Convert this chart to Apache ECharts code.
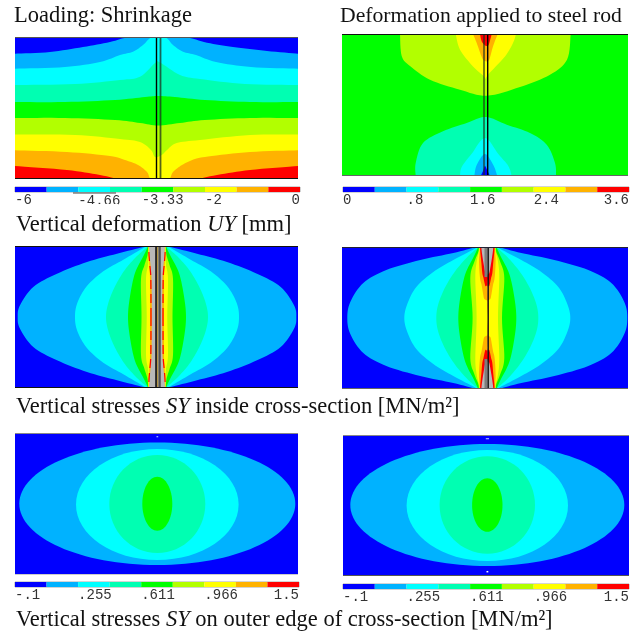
<!DOCTYPE html>
<html>
<head>
<meta charset="utf-8">
<style>html,body{margin:0;padding:0;background:#fff}#c{width:641px;height:634px}</style>
<script src="https://cdn.jsdelivr.net/npm/echarts@6/dist/echarts.min.js"></script>
</head>
<body>
<div id="c"></div>
<script>
// ---- palette (nine contour bands, low to high) ----
const bandColors = ['#0000ff','#00b2ff','#00ffff','#00ffb2','#00ff00','#b2ff00','#ffff00','#ffb200','#ff0000'];

// ---- colour-bar tick labels ----
const ticksUY   = {0:'-6',2:'{low|-4.66}',4:'-3.33',6:'-2',9:'0'};
const ticksRod  = {0:'0',2:'.8',4:'1.6',6:'2.4',9:'3.6'};
const ticksSY   = {0:'-.1',2:'.255',4:'.611',6:'.966',9:'1.5'};

// ---- Panel 1: UY contour boundaries (x along section, y depth), each fills down to the bottom edge ----
const uyB1 = [[0,16.7],[35,15],[68,10],[95,5],[117,0],[167,0],[192,5.7],[218,10],[252,14],[283,16.7]];
const uyB2 = [[0,31.7],[50,30],[85,25],[105,18],[118,14.7],[128,8],[137,0],[150,0],[158,8],[168,14.7],[181,18],[201,25],[236,30],[283,31.7]];
const uyB3 = [[0,48],[60,47],[105,43],[125,39.7],[140,26],[145,25.5],[165,38],[185,42],[230,47],[283,48]];
const uyB4 = [[0,65],[50,65],[100,63],[130,60],[143,59],[160,60],[190,63],[235,65],[283,65]];
const uyB5 = [[0,81],[50,81],[100,83],[125,86],[143,88.5],[165,86],[190,83],[235,81],[283,81]];
const uyB6 = [[0,97.5],[60,98],[105,102],[125,105],[136,113],[140,120],[146.7,118],[152,113],[161.7,106],[185,103],[235,98],[283,97.5]];
const uyB7 = [[0,113.3],[52,115],[95,119],[110,123],[123,128],[132,135],[137,143],[153,143],[158,135],[167,128],[180,122],[193,119.5],[235,115],[283,113.3]];
const uyB8 = [[0,129],[52,133],[85,138],[113,143],[172,143],[202,138],[235,133],[283,129]];
const uyRods = [141.5,145.5];

// ---- Panel 2: rod deformation lobes ----
const rodTop1 = [[58,0],[59.7,22],[68,32],[88,45.7],[118,55.7],[144.7,61.7],[178,53],[208,40.7],[225,25.7],[228.7,0]];
const rodTop2 = [[113.7,0],[118,15.7],[131,32.4],[142,42.4],[144,45],[146,40.7],[163,22.4],[171,9],[174,0]];
const rodTop3 = [[131,0],[134.7,9],[140,23.7],[143,27],[147,26],[151,12.4],[155.7,0]];
const rodTop4 = [[138,0],[139.7,7.4],[143,11.4],[146.3,11.4],[148.7,4],[149.7,0]];
const rodBot1 = [[73.7,142],[73.7,129],[81,109],[101,97.3],[124.7,89],[143.7,83],[164.7,90.7],[188,99],[204.7,110.7],[213,129],[214,142]];
const rodBot2 = [[118,142],[119.7,133],[129.7,119.7],[143,104],[156.3,120],[166.3,132],[169.7,142]];
const rodBot3 = [[132.3,142],[134.7,131],[143,120],[151.3,131],[155.3,142]];
const rodBot4 = [[138.7,142],[141,137],[143,132],[145.5,137],[148,142]];
const rodRods = [142,145.7];

// ---- Panel 3: SY inside cross-section, half-width profiles [offset from mid-height, half width] ----
const syA1 = [[0,139.3],[11.7,137],[30,123.7],[43.3,100],[55,70],[63.3,40],[70,13.7],[71,11]];
const syA2 = [[0,82],[14,79.7],[30.7,70.3],[45.7,53.7],[57.3,33.7],[69,13.7],[71,10]];
const syA3 = [[0,51],[14,48.7],[30.7,42],[47.3,32],[60.7,20.3],[70,9.8],[71,9.5]];
const syA4 = [[0,29],[20.7,27],[44,22],[60.7,13.7],[70,9.2],[71,9]];
const syA5 = [[0,15.5],[38,16],[52,12.5],[62,9.5],[71,8.8]];
const syA6 = [[0,10.3],[38,11],[52,9],[62,8.8],[71,8.6]];
const syA7 = [[0,7],[38,7],[55,7.8],[71,8.4]];
const syAGrey = [[0,5.2],[38,5.5],[52,6.5],[62,7.5],[71,8]];
const syARed  = [[0,6],[38,6.2],[52,7.2],[62,8],[71,8.3]];

// ---- Panel 4: same quantity for the rod-loaded case ----
const syB1 = [[0,140],[16,137],[35,124],[48,101],[58,67],[65,34],[71,11]];
const syB2 = [[0,83],[14,80],[31,71],[46,54],[58,34],[69,13],[71,10]];
const syB3 = [[0,51],[14,49],[31,42],[47,32],[61,20],[70,10],[71,9.5]];
const syB4 = [[0,29],[21,27],[44,22],[61,13.7],[70,9.5],[71,9]];
const syB5 = [[0,14.7],[40,17],[56,13],[66,9],[71,8.5]];
const syB6 = [[0,10.7],[40,12],[56,10.7],[66,8.5],[71,8]];
const syB7 = [[0,0],[16,0],[19,3],[23,4],[33,5.7],[40,7.3],[56,8.3],[66,7.8],[71,7.5]];
const syB8 = [[0,0],[30,0],[32,2],[40,3.8],[45,5],[56,6],[66,7],[71,7.2]];
const syBGrey = [[0,0],[40,0],[45,2],[56,4],[66,5.5],[71,6]];

// ---- Panels 5 and 6: outer edge, elliptical contours [cx, cy, rx, ry] ----
const edgeA = [[142.3,70.7,138,61.3],[142.3,71.5,81.3,55.5],[142.3,71,48,49],[142.3,70.8,15,27]];
const edgeB = [[144.3,70,137,61],[144.3,70.5,80.7,55.5],[144.3,70,47.7,48.7],[144.3,70,15.2,26.8]];

// ---- drawing helpers: rounded path through the read points, like a smoothed line ----
function rounded(pts){
  const out=[];
  for(let i=0;i<pts.length-1;i++){
    const p0=pts[Math.max(i-1,0)],p1=pts[i],p2=pts[i+1],p3=pts[Math.min(i+2,pts.length-1)];
    for(let s=0;s<8;s++){
      const t=s/8,t2=t*t,t3=t2*t;
      out.push([0,1].map(k=>0.5*((2*p1[k])+(p2[k]-p0[k])*t+(2*p0[k]-5*p1[k]+4*p2[k]-p3[k])*t2+(3*p1[k]-p0[k]-3*p2[k]+p3[k])*t3)));
    }
  }
  out.push(pts[pts.length-1]);
  return out;
}
const fillDown = (pts,h) => { const r=rounded(pts); return [[pts[0][0],h],...r,[pts[pts.length-1][0],h]]; };
const lens = (prof,cx,cy) => {
  const r = prof.slice().reverse();
  const side = rounded([...r.map(p=>[p[1],-p[0]]),...prof.slice(1).map(p=>[p[1],p[0]])]);
  return [...side.map(p=>[cx+p[0],cy+p[1]]),...side.slice().reverse().map(p=>[cx-p[0],cy+p[1]])];
};
const poly = (pts,c) => ({k:'poly',pts,c});
const ell  = (e,c)   => ({k:'ell',e,c});
const line = (pts,c,w,dash) => ({k:'line',pts,c,w,dash});
const C = bandColors;

function edges(w,h,top,bot){ return [line([[0,0.5],[w,0.5]],top,1.2), line([[0,h-0.5],[w,h-0.5]],bot,1.2)]; }

const panels = [
 { rect:[15,37,283,142], layers:[
    poly([[0,0],[283,0],[283,142],[0,142]],C[0]),
    ...[uyB1,uyB2,uyB3,uyB4,uyB5,uyB6,uyB7,uyB8].map((b,i)=>poly(fillDown(b,143),C[i+1])),
    line([[uyRods[0],0],[uyRods[0],142]],'#000',1.4),
    line([[uyRods[1],0],[uyRods[1],142]],'rgba(30,50,30,0.75)',1.8),
    ...edges(283,142,'#555','#111')
 ]},
 { rect:[342,34,286,142], layers:[
    poly([[0,0],[286,0],[286,142],[0,142]],C[4]),
    ...[rodTop1,rodTop2,rodTop3,rodTop4].map((b,i)=>poly(rounded(b),C[5+i])),
    ...[rodBot1,rodBot2,rodBot3,rodBot4].map((b,i)=>poly(rounded(b),C[3-i])),
    line([[rodRods[0],0],[rodRods[0],142]],'rgba(30,50,30,0.75)',1.6),
    line([[rodRods[1],0],[rodRods[1],142]],'#000',1.4),
    ...edges(286,142,'#111','#666')
 ]},
 { rect:[15,246,283,142], layers:[
    poly([[0,0],[283,0],[283,142],[0,142]],C[0]),
    ...[syA1,syA2,syA3,syA4,syA5,syA6,syA7].map((p,i)=>poly(lens(p,142,71),C[i+1])),
    poly(lens(syAGrey,142,71),'#b8b8b8'),
    line(rounded(syARed).map(p=>[142-p[1],71-p[0]]),C[8],1.2,[9,5]),
    line(rounded(syARed).map(p=>[142-p[1],71+p[0]]),C[8],1.2,[9,5]),
    line(rounded(syARed).map(p=>[142+p[1],71-p[0]]),C[8],1.2,[9,5]),
    line(rounded(syARed).map(p=>[142+p[1],71+p[0]]),C[8],1.2,[9,5]),
    poly([[141,0],[145,0],[145,142],[141,142]],'#7d7d7d'),
    line([[142.6,0],[142.6,142]],'#c8a030',0.8),
    line([[141,0],[141,142]],'#000',1.4),
    line([[145,0],[145,142]],'#333',1.2),
    ...edges(283,142,'#111','#111')
 ]},
 { rect:[342,247,286,142], layers:[
    poly([[0,0],[286,0],[286,142],[0,142]],C[0]),
    ...[syB1,syB2,syB3,syB4,syB5,syB6,syB7,syB8].map((p,i)=>poly(lens(p,145.3,71),C[i+1])),
    poly(lens(syBGrey,145.3,71),'#b8b8b8'),
    line([[144,0],[144,30]],'#7d7d7d',3),
    line([[144,112],[144,142]],'#7d7d7d',3),
    line([[146.2,0],[146.2,142]],'#111',1.4),
    ...edges(286,142,'#223','#666')
 ]},
 { rect:[15,433,283,142], layers:[
    poly([[0,0],[283,0],[283,142],[0,142]],C[0]),
    ...edgeA.map((e,i)=>ell(e,C[i+1])),
    line([[141.5,3.7],[143.2,3.7]],'#9fc4ff',1.2),
    ...edges(283,142,'#888','#ccc')
 ]},
 { rect:[343,435,286,141], layers:[
    poly([[0,0],[286,0],[286,141],[0,141]],C[0]),
    ...edgeB.map((e,i)=>ell(e,C[i+1])),
    line([[142.8,3.7],[146,3.7]],'#9fb4ff',1.2),
    line([[143.5,136.7],[145.3,136.7]],'#ffffff',1.5),
    ...edges(286,141,'#888','#555')
 ]}
];

const bars = [
 { rect:[15,187,285,5], ticks:ticksUY },
 { rect:[343,187,286,5], ticks:ticksRod },
 { rect:[15,582,284,5], ticks:ticksSY },
 { rect:[343,584,286,5], ticks:ticksSY }
];

const grid=[],xAxis=[],yAxis=[],series=[];
panels.forEach(p=>{
  const i=grid.length, [l,t,w,h]=p.rect;
  grid.push({left:l,top:t,width:w,height:h,show:false});
  xAxis.push({type:'value',gridIndex:i,min:0,max:w,show:false});
  yAxis.push({type:'value',gridIndex:i,min:0,max:h,inverse:true,show:false});
  series.push({
    type:'custom',xAxisIndex:i,yAxisIndex:i,silent:true,clip:true,animation:false,
    data:p.layers.map((_,n)=>[n,0]),
    renderItem:(params,api)=>{
      const L=p.layers[params.dataIndex];
      if(L.k==='poly') return {type:'polygon',shape:{points:L.pts.map(q=>api.coord(q))},style:{fill:L.c}};
      if(L.k==='line') return {type:'polyline',shape:{points:L.pts.map(q=>api.coord(q))},style:{fill:null,stroke:L.c,lineWidth:L.w,lineDash:L.dash||null}};
      const c=api.coord([L.e[0],L.e[1]]), e=api.coord([L.e[0]+L.e[2],L.e[1]+L.e[3]]);
      return {type:'ellipse',shape:{cx:c[0],cy:c[1],rx:e[0]-c[0],ry:e[1]-c[1]},style:{fill:L.c}};
    }
  });
});
bars.forEach(b=>{
  const i=grid.length,[l,t,w,h]=b.rect;
  grid.push({left:l,top:t,width:w,height:h,show:true,borderColor:'#a8a8a8',borderWidth:1,backgroundColor:'#fff'});
  xAxis.push({type:'value',gridIndex:i,min:0,max:9,interval:1,
    axisLine:{show:false},splitLine:{show:false},
    axisTick:{show:false},
    axisLabel:{show:true,margin:1,align:'left',alignMinLabel:'left',alignMaxLabel:'right',
      showMinLabel:true,showMaxLabel:true,hideOverlap:false,
      fontFamily:'Liberation Mono',fontSize:14,color:'#333',
      rich:{low:{fontFamily:'Liberation Mono',fontSize:14,color:'#333',padding:[1,0,0,0]}},
      formatter:v=>b.ticks[v]||''}});
  yAxis.push({type:'value',gridIndex:i,min:0,max:1,show:false});
  series.push({
    type:'custom',xAxisIndex:i,yAxisIndex:i,silent:true,animation:false,
    data:bandColors.map((_,n)=>[n,0]),
    renderItem:(params,api)=>{
      const a=api.coord([params.dataIndex,1]), z=api.coord([params.dataIndex+1,0]);
      return {type:'rect',shape:{x:a[0],y:a[1],width:z[0]-a[0],height:z[1]-a[1]},style:{fill:bandColors[params.dataIndex]}};
    }
  });
});

const serif='Liberation Serif', cap={fontFamily:serif,fontSize:22.5,fontWeight:'normal',color:'#111'};
const mk=(size)=>{const c={...cap,fontSize:size};return {n:{...c},i:{...c,fontStyle:'italic'}};};
const T=(text,left,top,size)=>({text,left,top,padding:0,textStyle:{...cap,fontSize:size,rich:mk(size)}});
const title=[
  T('{n|Loading: Shrinkage}',14,5,22.5),
  T('{n|Deformation applied to steel rod}',340,5,21.7),
  T('{n|Vertical deformation }{i|UY}{n| [mm]}',16,214,22.5),
  T('{n|Vertical stresses }{i|SY}{n| inside cross-section [MN/m²]}',16,396,22.5),
  T('{n|Vertical stresses }{i|SY}{n| on outer edge of cross-section [MN/m²]}',16,609,22.5)
];

const chart=echarts.init(document.getElementById('c'),null,{renderer:'canvas'});
chart.setOption({
  animation:false,backgroundColor:'#fff',title,grid,xAxis,yAxis,series,
  graphic:[
    {type:'line',shape:{x1:73,y1:193,x2:116,y2:193},style:{stroke:'#444',lineWidth:1},z:100},
    {type:'rect',shape:{x:76,y:204,width:42,height:4},style:{fill:'#fff'},z:100}
  ]
});
</script>
</body>
</html>
